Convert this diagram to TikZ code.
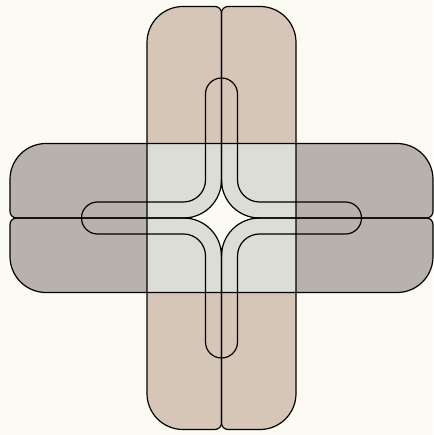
\documentclass[tikz,border=0pt]{standalone}
\usepackage{tikz}

\definecolor{paper}{HTML}{FBFBF3}
\definecolor{armtan}{HTML}{D6C6B8}
\definecolor{armgrey}{HTML}{B8B1AC}
\definecolor{hubgrey}{HTML}{DCDDD5}

% one half of an arm, cut along its middle line
\newcommand{\halfarm}{(0,205) arc[start angle=0,end angle=90,radius=6.5] -- (-38.5,211.5)
    arc[start angle=90,end angle=180,radius=36] -- (-74.5,-175.5)
    arc[start angle=180,end angle=270,radius=36] -- (-6.5,-211.5)
    arc[start angle=270,end angle=360,radius=6.5] -- cycle}

\begin{document}
\begin{tikzpicture}[x=1pt,y=1pt,line width=1.2pt,line join=round]
        \fill[paper] (-221.5,-217) rectangle (211.5,218);
        % fills first, outlines over them
        \fill[armgrey,rotate=90] \halfarm;
        \fill[armgrey,rotate=270] \halfarm;
        \fill[armtan] \halfarm;
        \fill[armtan,rotate=180] \halfarm;
        \fill[hubgrey] (-74.5,-74.5) rectangle (74.5,74.5);
        \draw[rotate=90] \halfarm;
        \draw[rotate=270] \halfarm;
        \draw \halfarm;
        \draw[rotate=180] \halfarm;
        % inner slot
        \draw (-16,124) arc[start angle=180,end angle=0,radius=16] -- (16,38)
            arc[start angle=180,end angle=270,radius=22] -- (124,16)
            arc[start angle=90,end angle=-90,radius=16] -- (38,-16)
            arc[start angle=90,end angle=180,radius=22] -- (16,-124)
            arc[start angle=0,end angle=-180,radius=16] -- (-16,-38)
            arc[start angle=0,end angle=90,radius=22] -- (-124,-16)
            arc[start angle=270,end angle=90,radius=16] -- (-38,16)
            arc[start angle=-90,end angle=0,radius=22] -- cycle;
        % centre star
        \filldraw[fill=paper] (0,38) arc[start angle=180,end angle=270,radius=38]
            arc[start angle=90,end angle=180,radius=38]
            arc[start angle=0,end angle=90,radius=38]
            arc[start angle=-90,end angle=0,radius=38] -- cycle;
    \end{tikzpicture}
\end{document}
